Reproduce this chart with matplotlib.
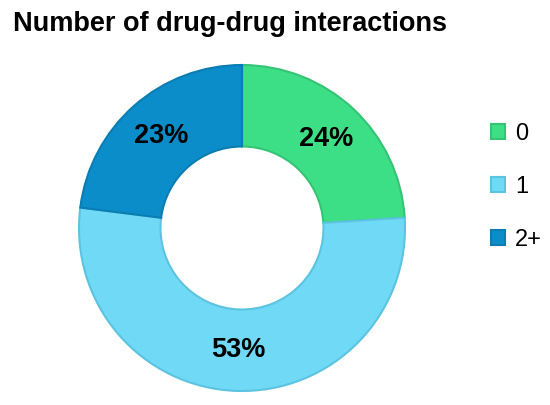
import matplotlib
matplotlib.use("Agg")
import matplotlib.pyplot as plt

title = "Number of drug-drug interactions"
categories = ["0", "1", "2+"]
values = [24, 53, 23]
colors = ["#3DDF86", "#6FD9F6", "#0A8DC9"]
edge_colors = ["#35C476", "#5CC3E0", "#0A7DB3"]

plt.rcParams['font.family'] = ['Liberation Sans', 'DejaVu Sans']

fig = plt.figure(figsize=(5.5, 4.05), dpi=100)
ax = fig.add_axes([0, 0, 1, 1])

cx, cy, R = 242, 405 - 228, 163
wedges, texts = ax.pie(values, startangle=90, counterclock=False, center=(cx, cy),
                       radius=R, colors=colors,
                       wedgeprops=dict(width=R * 0.5, linewidth=1.5),
                       labels=[f"{v}%" for v in values], labeldistance=0.75,
                       textprops=dict(fontsize=19.5, fontweight='bold', color='black',
                                      ha='center', va='center'),
                       frame=True)
for w, ec in zip(wedges, edge_colors):
    w.set_edgecolor(ec)
ax.set_xlim(0, 550)
ax.set_ylim(0, 405)
ax.set_aspect('equal')
ax.axis('off')

fig.text(13 / 550, 1 - 24 / 405, title, fontsize=19.5, fontweight='bold',
         ha='left', va='center')

leg = ax.legend(wedges, categories, loc='upper left', bbox_to_anchor=(470 / 550, 1 - 102 / 405),
                bbox_transform=fig.transFigure, frameon=False, fontsize=17,
                handlelength=0.6, handleheight=0.6, handletextpad=0.4, labelspacing=1.3)

fig.savefig("out.png", dpi=100)
